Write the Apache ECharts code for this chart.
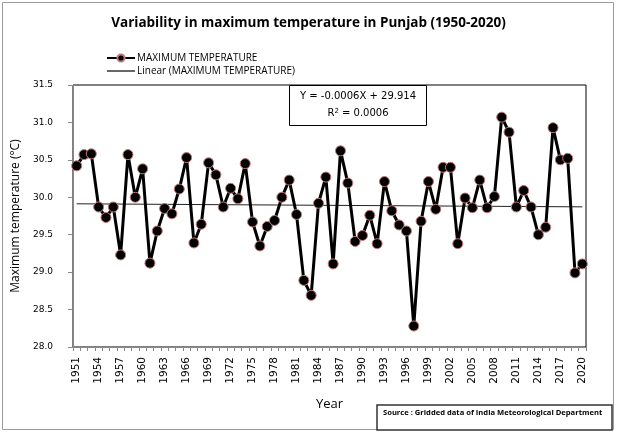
<!DOCTYPE html>
<html><head><meta charset="utf-8">
<script src="https://cdn.jsdelivr.net/npm/echarts@6/dist/echarts.min.js"></script>
<style>html,body{margin:0;padding:0;background:#fff}#c{width:617px;height:434px}</style>
</head><body><div id="c"></div>
<script>
const years = ['1951','1952','1953','1954','1955','1956','1957','1958','1959','1960',
'1961','1962','1963','1964','1965','1966','1967','1968','1969','1970',
'1971','1972','1973','1974','1975','1976','1977','1978','1979','1980',
'1981','1982','1983','1984','1985','1986','1987','1988','1989','1990',
'1991','1992','1993','1994','1995','1996','1997','1998','1999','2000',
'2001','2002','2003','2004','2005','2006','2007','2008','2009','2010',
'2011','2012','2013','2014','2015','2016','2017','2018','2019','2020'];
const maxTemp = [30.42,30.57,30.58,29.87,29.73,29.87,29.23,30.57,30.00,30.38,
29.12,29.55,29.85,29.78,30.11,30.53,29.39,29.64,30.46,30.30,
29.87,30.12,29.98,30.45,29.67,29.35,29.61,29.69,30.00,30.23,
29.77,28.89,28.69,29.92,30.27,29.11,30.62,30.19,29.41,29.49,
29.76,29.38,30.21,29.82,29.63,29.55,28.28,29.68,30.21,29.84,
30.40,30.40,29.38,29.99,29.86,30.23,29.86,30.01,31.07,30.87,
29.87,30.09,29.87,29.50,29.60,30.93,30.50,30.52,28.99,29.11];
const trendEnds = [29.913, 29.872];
const yMin = 28.0, yMax = 31.5, yStep = 0.5;
const seriesNames = ['MAXIMUM TEMPERATURE', 'Linear (MAXIMUM TEMPERATURE)'];
const equationLines = ['Y = -0.0006X + 29.914', 'R{s|2} = 0.0006'];

const trendData = years.map((y, i) => i === 0 ? trendEnds[0] : (i === years.length - 1 ? trendEnds[1] : null));

const chart = echarts.init(document.getElementById('c'), null, {renderer: 'canvas'});
chart.setOption({
  animation: false,
  backgroundColor: '#fff',
  title: {
    text: 'Variability in maximum temperature in Punjab (1950-2020)',
    left: 'center', top: 11,
    textStyle: {fontFamily: 'Open Sans', fontWeight: 'bold', fontSize: 13.5, color: '#000'}
  },
  legend: {
    orient: 'vertical', left: 101, top: 48, itemGap: 3,
    itemWidth: 28, itemHeight: 9,
    data: [
      {name: seriesNames[0]},
      {name: seriesNames[1], icon: 'path://M0,0H28V1.2H0Z', itemStyle: {color: '#000'}}
    ],
    textStyle: {fontFamily: 'Open Sans', fontSize: 10, color: '#000', padding: [0,0,0,-3]}
  },
  grid: {left: 73, right: 31, top: 85, bottom: 87, show: true, borderColor: '#000', borderWidth: 1},
  xAxis: {
    type: 'category', data: years, boundaryGap: true,
    name: 'Year', nameLocation: 'middle', nameGap: 51,
    nameTextStyle: {fontFamily: 'Open Sans', fontSize: 13, color: '#000'},
    axisLine: {lineStyle: {color: '#888', width: 1}},
    axisTick: {show: true, interval: 0, length: 4, lineStyle: {color: '#888'}},
    axisLabel: {interval: 2, rotate: 90, margin: 10, fontFamily: 'DejaVu Sans', fontSize: 10.5, color: '#000'}
  },
  yAxis: {
    type: 'value', min: yMin, max: yMax, interval: yStep,
    name: 'Maximum temperature (°C)', nameLocation: 'middle', nameGap: 42, nameRotate: 90,
    nameTextStyle: {fontFamily: 'Open Sans', fontSize: 12, color: '#000'},
    axisLine: {show: true, lineStyle: {color: '#888', width: 1}},
    axisTick: {show: true, inside: false, length: 5, lineStyle: {color: '#888'}},
    splitLine: {show: false},
    axisLabel: {margin: 20, fontFamily: 'DejaVu Sans', fontSize: 9, color: '#000', formatter: v => v.toFixed(1)}
  },
  series: [
    {
      name: seriesNames[1], type: 'line', data: trendData, connectNulls: true,
      symbol: 'none', z: 1,
      lineStyle: {color: '#222', width: 1}, itemStyle: {color: '#222'}
    },
    {
      name: seriesNames[0], type: 'line', data: maxTemp, z: 2,
      symbol: 'circle', symbolSize: 10, showSymbol: true, showAllSymbol: true,
      lineStyle: {color: '#000', width: 3},
      itemStyle: {color: '#000', borderColor: '#c07878', borderWidth: 1}
    }
  ],
  graphic: [
    {type: 'rect', shape: {x: 2.5, y: 2.5, width: 611, height: 427}, style: {fill: null, stroke: '#999', lineWidth: 1}, silent: true, z: 0},
    {type: 'rect', shape: {x: 289.5, y: 85.5, width: 137, height: 40}, style: {fill: '#fff', stroke: '#000', lineWidth: 1}, z: 10},
    {type: 'text', x: 358, y: 91, style: {text: equationLines[0], font: '10px "DejaVu Sans"', fill: '#000', align: 'center'}, z: 11},
    {type: 'text', x: 358, y: 108, style: {text: equationLines[1], font: '10px "DejaVu Sans"', fill: '#000', align: 'center', rich: {s: {fontSize: 7, verticalAlign: 'top', fontFamily: 'DejaVu Sans'}}}, z: 11},
    {type: 'rect', shape: {x: 377, y: 405, width: 235, height: 25}, style: {fill: '#fff', stroke: '#333', lineWidth: 1.5}, z: 10},
    {type: 'text', x: 383, y: 409, style: {text: 'Source : Gridded data of India Meteorological Department', font: 'bold 7.6px "Open Sans"', fill: '#000'}, z: 11}
  ]
});
</script>
</body></html>
